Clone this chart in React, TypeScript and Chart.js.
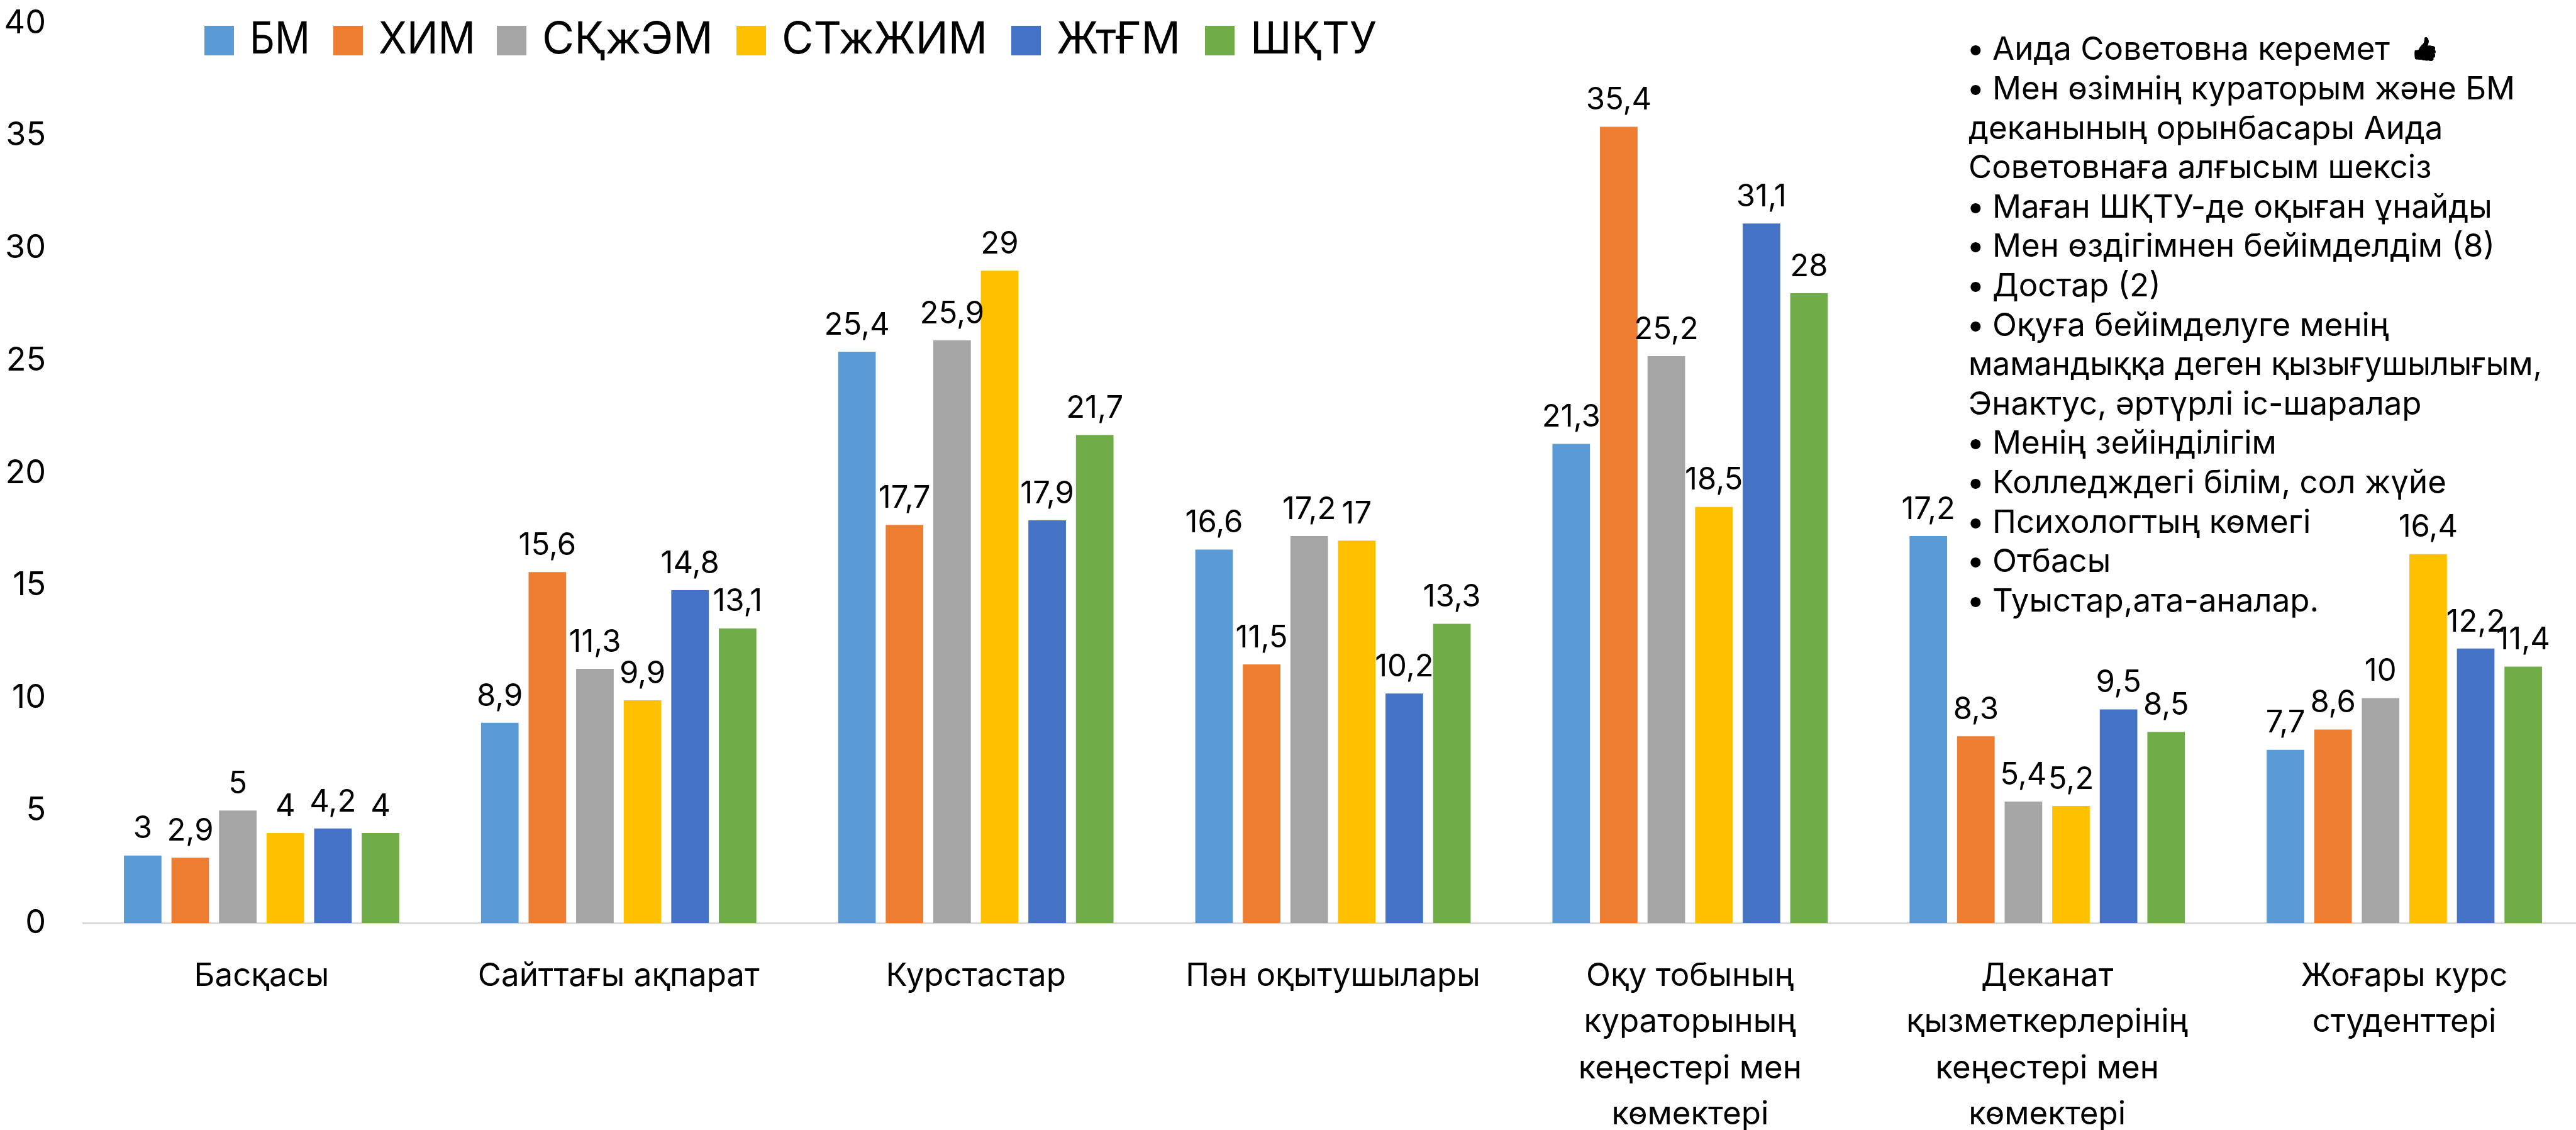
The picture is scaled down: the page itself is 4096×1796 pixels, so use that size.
import React, { useEffect, useRef } from "react";
import { Chart, registerables } from "chart.js";

Chart.register(...registerables);

const categories: (string | string[])[] = [
  "Басқасы",
  "Сайттағы ақпарат",
  "Курстастар",
  "Пән оқытушылары",
  ["Оқу тобының", "кураторының", "кеңестері мен", "көмектері"],
  ["Деканат", "қызметкерлерінің", "кеңестері мен", "көмектері"],
  ["Жоғары курс", "студенттері"],
];
const bm = [3, 8.9, 25.4, 16.6, 21.3, 17.2, 7.7];
const him = [2.9, 15.6, 17.7, 11.5, 35.4, 8.3, 8.6];
const skzhem = [5, 11.3, 25.9, 17.2, 25.2, 5.4, 10];
const stzhzhim = [4, 9.9, 29, 17, 18.5, 5.2, 16.4];
const zhtgm = [4.2, 14.8, 17.9, 10.2, 31.1, 9.5, 12.2];
const shktu = [4, 13.1, 21.7, 13.3, 28, 8.5, 11.4];
const seriesNames = ["БМ", "ХИМ", "СҚжЭМ", "СТжЖИМ", "ЖтҒМ", "ШҚТУ"];
const seriesValues = [bm, him, skzhem, stzhzhim, zhtgm, shktu];
const seriesColors = ["#5B9BD5", "#ED7D31", "#A5A5A5", "#FFC000", "#4472C4", "#70AD47"];
const noteLines: [string, boolean][] = [
  ["Аида Советовна керемет👍", true],
  ["Мен өзімнің кураторым және БМ", true],
  ["деканының орынбасары Аида", false],
  ["Советовнаға алғысым шексіз", false],
  ["Маған ШҚТУ-де оқыған ұнайды", true],
  ["Мен өздігімнен бейімделдім (8)", true],
  ["Достар (2)", true],
  ["Оқуға бейімделуге менің", true],
  ["мамандыққа деген қызығушылығым,", false],
  ["Энактус, әртүрлі іс-шаралар", false],
  ["Менің зейінділігім", true],
  ["Колледждегі білім, сол жүйе", true],
  ["Психологтың көмегі", true],
  ["Отбасы", true],
  ["Туыстар,ата-аналар.", true],
];

const FONT = "Inter, 'Noto Sans', sans-serif";
const THUMB = "👍";
const legendSwatchX = [325, 530, 790, 1171, 1608, 1916];
const legendTextWidth = [96, 154, 276, 327, 197, 201];

const overlay = {
  id: "overlay",
  afterDatasetsDraw(chart: any) {
    const { ctx } = chart;
    ctx.save();
    ctx.fillStyle = "#000";
    ctx.textAlign = "center";
    ctx.textBaseline = "middle";
    ctx.font = `49px ${FONT}`;
    chart.data.datasets.forEach((ds: any, i: number) => {
      chart.getDatasetMeta(i).data.forEach((bar: any, j: number) => {
        ctx.fillText(String(ds.data[j]).replace(".", ","), bar.x, bar.y - 42);
      });
    });
    ctx.textAlign = "left";
    ctx.font = `51px ${FONT}`;
    noteLines.forEach(([text, bullet], k) => {
      const y = 80 + k * 62.6;
      const x = bullet ? 3168 : 3130;
      if (bullet) ctx.fillText("•", 3127, y);
      const plain = text.replace(THUMB, "");
      ctx.fillText(plain, x, y, 912);
      if (text !== plain) {
        ctx.save();
        ctx.filter = "brightness(0)";
        ctx.font = `36px ${FONT}`;
        ctx.fillText(THUMB, 3833, y - 1);
        ctx.restore();
      }
    });
    ctx.font = `70px ${FONT}`;
    chart.data.datasets.forEach((ds: any, i: number) => {
      const x = legendSwatchX[i];
      ctx.fillStyle = ds.backgroundColor;
      ctx.fillRect(x, 41, 47, 47);
      ctx.fillStyle = "#000";
      ctx.fillText(ds.label, x + 72, 64, legendTextWidth[i]);
    });
    ctx.restore();
  },
};

export default function App() {
  const ref = useRef<HTMLCanvasElement>(null);
  useEffect(() => {
    const chart = new Chart(ref.current!, {
      type: "bar",
      data: {
        labels: categories as any,
        datasets: seriesNames.map((name, i) => ({
          label: name,
          data: seriesValues[i],
          backgroundColor: seriesColors[i],
          categoryPercentage: 0.799,
          barPercentage: 0.79,
        })),
      },
      options: {
        responsive: false,
        animation: false,
        layout: { padding: { top: 37, left: 0, right: 0, bottom: 0 } },
        scales: {
          x: {
            grid: { display: false },
            border: { color: "#D9D9D9", width: 3 },
            ticks: {
              color: "#000",
              font: { family: FONT, size: 51, lineHeight: 1.44 },
              padding: 40,
              maxRotation: 0,
              autoSkip: false,
            },
            afterFit: (s: any) => { s.height = 329; },
          },
          y: {
            min: 0,
            max: 40,
            grid: { display: false, drawTicks: false },
            border: { display: false },
            ticks: {
              stepSize: 5,
              color: "#000",
              font: { family: FONT, size: 52 },
              padding: 59,
            },
            afterFit: (s: any) => {
              s.width = 132;
              s.paddingTop = 0;
              s.paddingBottom = 0;
            },
          },
        },
        plugins: {
          tooltip: { enabled: false },
          legend: { display: false },
        },
      } as any,
      plugins: [overlay],
    });
    return () => chart.destroy();
  }, []);
  return (
    <div style={{ width: 4096, height: 1796, overflow: "hidden", background: "#fff" }}>
      <style>{"html,body{margin:0;padding:0;overflow:hidden;background:#fff}"}</style>
      <canvas ref={ref} width={4107} height={1796} style={{ display: "block" }} />
    </div>
  );
}
